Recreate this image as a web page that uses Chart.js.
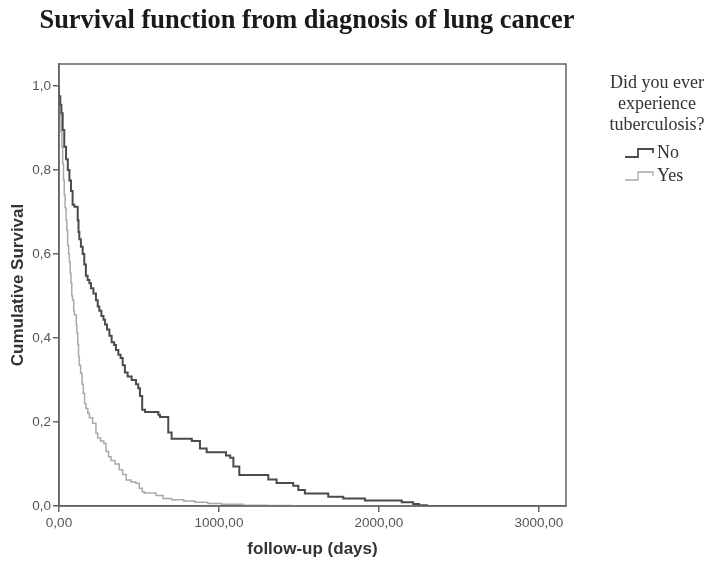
<!DOCTYPE html>
<html>
<head>
<meta charset="utf-8">
<script src="https://cdn.jsdelivr.net/npm/chart.js@4"></script>
<style>
html,body{margin:0;padding:0;background:#fff;}
#wrap{width:707px;height:563px;}
</style>
</head>
<body>
<div id="wrap"><canvas id="c" width="707" height="563"></canvas></div>
<script>
// ---- data ----
const chartTitle = "Survival function from diagnosis of lung cancer";
const legendTitle = ["Did you ever", "experience", "tuberculosis?"];
const seriesNames = ["No", "Yes"];

const noDays = [0,8,15,23,33,44,55,65,75,85,96,117,122,127,137,148,158,168,179,190,200,215,231,242,252,265,278,288,300,315,329,345,356,371,385,398,412,429,454,481,495,506,520,538,621,631,683,704,830,881,923,1044,1070,1090,1127,1308,1360,1464,1496,1537,1683,1777,1912,2142,2214,2250,2300,2350,3150];
const noSurv = [1.0,0.975,0.955,0.935,0.895,0.855,0.825,0.80,0.775,0.75,0.717,0.712,0.68,0.652,0.635,0.617,0.60,0.575,0.548,0.538,0.53,0.518,0.506,0.49,0.475,0.465,0.452,0.443,0.432,0.42,0.405,0.39,0.383,0.371,0.36,0.352,0.335,0.318,0.308,0.30,0.29,0.28,0.262,0.229,0.224,0.217,0.212,0.175,0.16,0.155,0.137,0.128,0.12,0.115,0.094,0.074,0.063,0.055,0.048,0.038,0.030,0.022,0.018,0.013,0.009,0.005,0.002,0,0];

const yesDays = [0,5,13,18,23,28,33,38,44,49,54,60,65,70,75,80,85,92,96,108,112,117,122,127,135,144,152,160,169,180,190,210,231,242,260,280,294,310,325,350,377,398,420,450,480,502,520,533,606,650,704,780,850,930,1017,1150,1300,1450,1600,3150];
const yesSurv = [1.0,0.96,0.93,0.89,0.855,0.815,0.776,0.74,0.71,0.68,0.657,0.62,0.60,0.58,0.554,0.53,0.50,0.49,0.465,0.455,0.43,0.411,0.385,0.356,0.335,0.316,0.29,0.268,0.244,0.232,0.221,0.21,0.197,0.173,0.162,0.155,0.149,0.13,0.117,0.108,0.10,0.086,0.075,0.062,0.057,0.054,0.042,0.034,0.031,0.025,0.018,0.015,0.012,0.009,0.006,0.004,0.002,0.001,0,0];

const xTickValues = [0, 1000, 2000, 3000];
const xTickLabels = ["0,00", "1000,00", "2000,00", "3000,00"];
const yTickValues = [0, 0.2, 0.4, 0.6, 0.8, 1.0];
const yTickLabels = ["0,0", "0,2", "0,4", "0,6", "0,8", "1,0"];
const xAxisTitle = "follow-up (days)";
const yAxisTitle = "Cumulative Survival";

// ---- styles ----
const colNo = "#4b4b4b";
const colYes = "#a9a9a9";
const axisCol = "#666666";

function pts(xs, ys){ return xs.map((x,i)=>({x:x, y:ys[i]})); }

const framePlugin = {
  id: "frame",
  afterDatasetsDraw(chart){
    const {ctx, chartArea:a} = chart;
    ctx.save();
    ctx.strokeStyle = axisCol;
    ctx.lineWidth = 1.5;
    ctx.strokeRect(a.left, a.top, a.right - a.left, a.bottom - a.top);
    ctx.restore();
  }
};

const titlePlugin = {
  id: "customTitle",
  afterDraw(chart){
    const ctx = chart.ctx;
    ctx.save();
    ctx.fillStyle = "#1a1a1a";
    ctx.font = 'bold 28px "Liberation Serif"';
    ctx.textAlign = "center";
    ctx.textBaseline = "alphabetic";
    ctx.fillText(chartTitle, 307, 28, 535);
    ctx.restore();
  }
};

const legendPlugin = {
  id: "customLegend",
  afterDraw(chart){
    const ctx = chart.ctx;
    ctx.save();
    ctx.fillStyle = "#333";
    ctx.font = '18px "Liberation Serif"';
    ctx.textAlign = "center";
    ctx.textBaseline = "middle";
    const cx = 657;
    legendTitle.forEach((t,i)=> ctx.fillText(t, cx, 83 + i*21));
    const items = [{name:seriesNames[0], col:colNo, w:1.8, y:153},
                   {name:seriesNames[1], col:colYes, w:1.3, y:176}];
    items.forEach(it=>{
      ctx.strokeStyle = it.col;
      ctx.lineWidth = it.w;
      ctx.beginPath();
      ctx.moveTo(625, it.y + 4);
      ctx.lineTo(638, it.y + 4);
      ctx.lineTo(638, it.y - 4);
      ctx.lineTo(653, it.y - 4);
      ctx.lineTo(653, it.y);
      ctx.stroke();
      ctx.fillStyle = "#333";
      ctx.textAlign = "left";
      ctx.fillText(it.name, 657, it.y);
    });
    ctx.restore();
  }
};

new Chart(document.getElementById("c"), {
  type: "scatter",
  data: {
    datasets: [
      { label: seriesNames[0], data: pts(noDays, noSurv), showLine: true, stepped: "after",
        borderColor: colNo, borderWidth: 2, pointRadius: 0, fill: false },
      { label: seriesNames[1], data: pts(yesDays, yesSurv), showLine: true, stepped: "after",
        borderColor: colYes, borderWidth: 1.5, pointRadius: 0, fill: false }
    ]
  },
  options: {
    responsive: false,
    animation: false,
    devicePixelRatio: 1,
    layout: { padding: { left: 0, top: 64, right: 141, bottom: 0 } },
    plugins: { legend: { display: false }, title: { display: false }, tooltip: { enabled: false } },
    scales: {
      x: {
        type: "linear", min: 0, max: 3169,
        afterFit(s){ s.height = 57; },
        afterBuildTicks(s){ s.ticks = xTickValues.map(v=>({value:v})); },
        ticks: { callback:(v)=>{ const i = xTickValues.indexOf(v); return i>=0 ? xTickLabels[i] : ""; },
                 color: "#555", font: { family: '"Liberation Sans"', size: 13.5 }, padding: 3, maxRotation: 0 },
        grid: { drawOnChartArea: false, tickLength: 6, color: axisCol, lineWidth: 1.5 },
        border: { display: true, color: axisCol, width: 1.5 },
        title: { display: true, text: xAxisTitle, color: "#333",
                 font: { family: '"Liberation Sans"', size: 17, weight: "bold" }, padding: { top: 4, bottom: 3 } }
      },
      y: {
        type: "linear", min: 0, max: 1.052,
        afterFit(s){ s.width = 59; },
        afterBuildTicks(s){ s.ticks = yTickValues.map(v=>({value:v})); },
        ticks: { callback:(v)=>{ const i = yTickValues.findIndex(t=>Math.abs(t-v)<1e-9); return i>=0 ? yTickLabels[i] : ""; },
                 color: "#555", font: { family: '"Liberation Sans"', size: 13.5 }, padding: 2 },
        grid: { drawOnChartArea: false, tickLength: 6, color: axisCol, lineWidth: 1.5 },
        border: { display: true, color: axisCol, width: 1.5 },
        title: { display: true, text: yAxisTitle, color: "#333",
                 font: { family: '"Liberation Sans"', size: 17, weight: "bold" }, padding: { top: 8, bottom: 4 } }
      }
    }
  },
  plugins: [framePlugin, titlePlugin, legendPlugin]
});
</script>
</body>
</html>
